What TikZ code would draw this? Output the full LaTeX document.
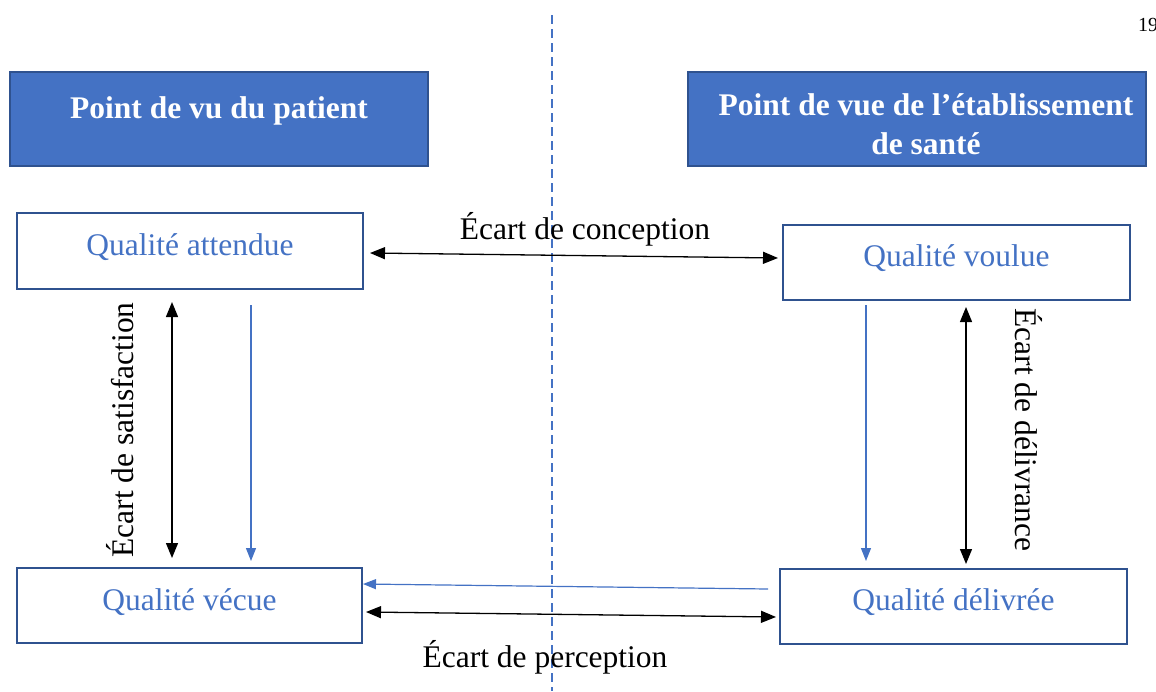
\documentclass[tikz,border=0pt]{standalone}
\usepackage{fontspec}
\setmainfont{Liberation Serif}
\usetikzlibrary{arrows.meta}
\definecolor{hdrfill}{HTML}{4472C4}
\definecolor{hdrline}{HTML}{2F528F}
\definecolor{txtblue}{HTML}{4472C4}
\begin{document}
\begin{tikzpicture}[x=1pt,y=-1pt,
  header/.style={draw=hdrline,line width=1.5pt,fill=hdrfill,inner sep=0pt},
  htxt/.style={text=white,font=\fontsize{31.5}{39}\selectfont\bfseries,align=center,inner sep=0pt},
  qbox/.style={draw=hdrline,line width=1.5pt,fill=white,inner sep=0pt},
  qtxt/.style={text=txtblue,font=\fontsize{31.5}{38}\selectfont,inner sep=0pt},
  lbl/.style={font=\fontsize{31.5}{38}\selectfont,inner sep=0pt},
  blk/.style={line width=1.3pt,{Triangle[length=15pt,width=12pt]}-{Triangle[length=15pt,width=12pt]}},
  blu/.style={draw=txtblue,line width=1.2pt,-{Triangle[length=13pt,width=10pt]}}]
\useasboundingbox (0,0) rectangle (1156,691);
% dashed divider
\coordinate (dtop) at (552,15);
\coordinate (dbot) at (552,691);
\draw[txtblue,line width=2pt,dash pattern=on 9pt off 5pt] (dtop) -- (dbot);
% page number
\node[anchor=west,font=\fontsize{20}{24}\selectfont,inner sep=0pt] (pg) at (1138,25) {19};
% headers
\node[header,minimum width=418pt,minimum height=94pt] (hl) at (219,119) {};
\node[htxt,yshift=8pt] (hlt) at (hl.center) {Point de vu du patient};
\node[header,minimum width=458pt,minimum height=94pt] (hr) at (917,119) {};
\node[htxt,yshift=-5pt,xshift=9pt] (hrt) at (hr.center) {Point de vue de l’établissement\\de santé};
% boxes
\node[qbox,minimum width=346pt,minimum height=76pt] (att) at (190,251) {};
\node[qtxt,yshift=4pt] (attt) at (att.center) {Qualité attendue};
\node[qbox,minimum width=347pt,minimum height=75pt] (vou) at (956.5,262.5) {};
\node[qtxt,yshift=4pt] (vout) at (vou.center) {Qualité voulue};
\node[qbox,minimum width=345pt,minimum height=75pt] (vec) at (189.5,605.5) {};
\node[qtxt,yshift=3pt] (vect) at (vec.center) {Qualité vécue};
\node[qbox,minimum width=347pt,minimum height=75pt] (del) at (953.5,606.5) {};
\node[qtxt,yshift=4pt] (delt) at (del.center) {Qualité délivrée};
% arrow end points
\coordinate (c1) at (370,253);
\coordinate (c2) at (778,258);
\coordinate (s1) at (172,302);
\coordinate (s2) at (172,558);
\coordinate (b1) at (251,305);
\coordinate (b2) at (251,561);
\coordinate (r1) at (866,305);
\coordinate (r2) at (866,561);
\coordinate (d1) at (966,307);
\coordinate (d2) at (966,564);
\coordinate (v1) at (768,589);
\coordinate (v2) at (363,584);
\coordinate (p1) at (366,612);
\coordinate (p2) at (776,617);
% connectors
\draw[blk] (c1) -- (c2);
\draw[blk] (s1) -- (s2);
\draw[blk] (d1) -- (d2);
\draw[blk] (p1) -- (p2);
\draw[blu] (b1) -- (b2);
\draw[blu] (r1) -- (r2);
\draw[blu] (v1) -- (v2);
% labels
\node[lbl] (lc) at (585,229) {Écart de conception};
\node[lbl,rotate=90] (ls) at (120,430) {Écart de satisfaction};
\node[lbl,rotate=-90] (ld) at (1029,430) {Écart de délivrance};
\node[lbl] (lp) at (545,657) {Écart de perception};
\end{tikzpicture}
\end{document}
